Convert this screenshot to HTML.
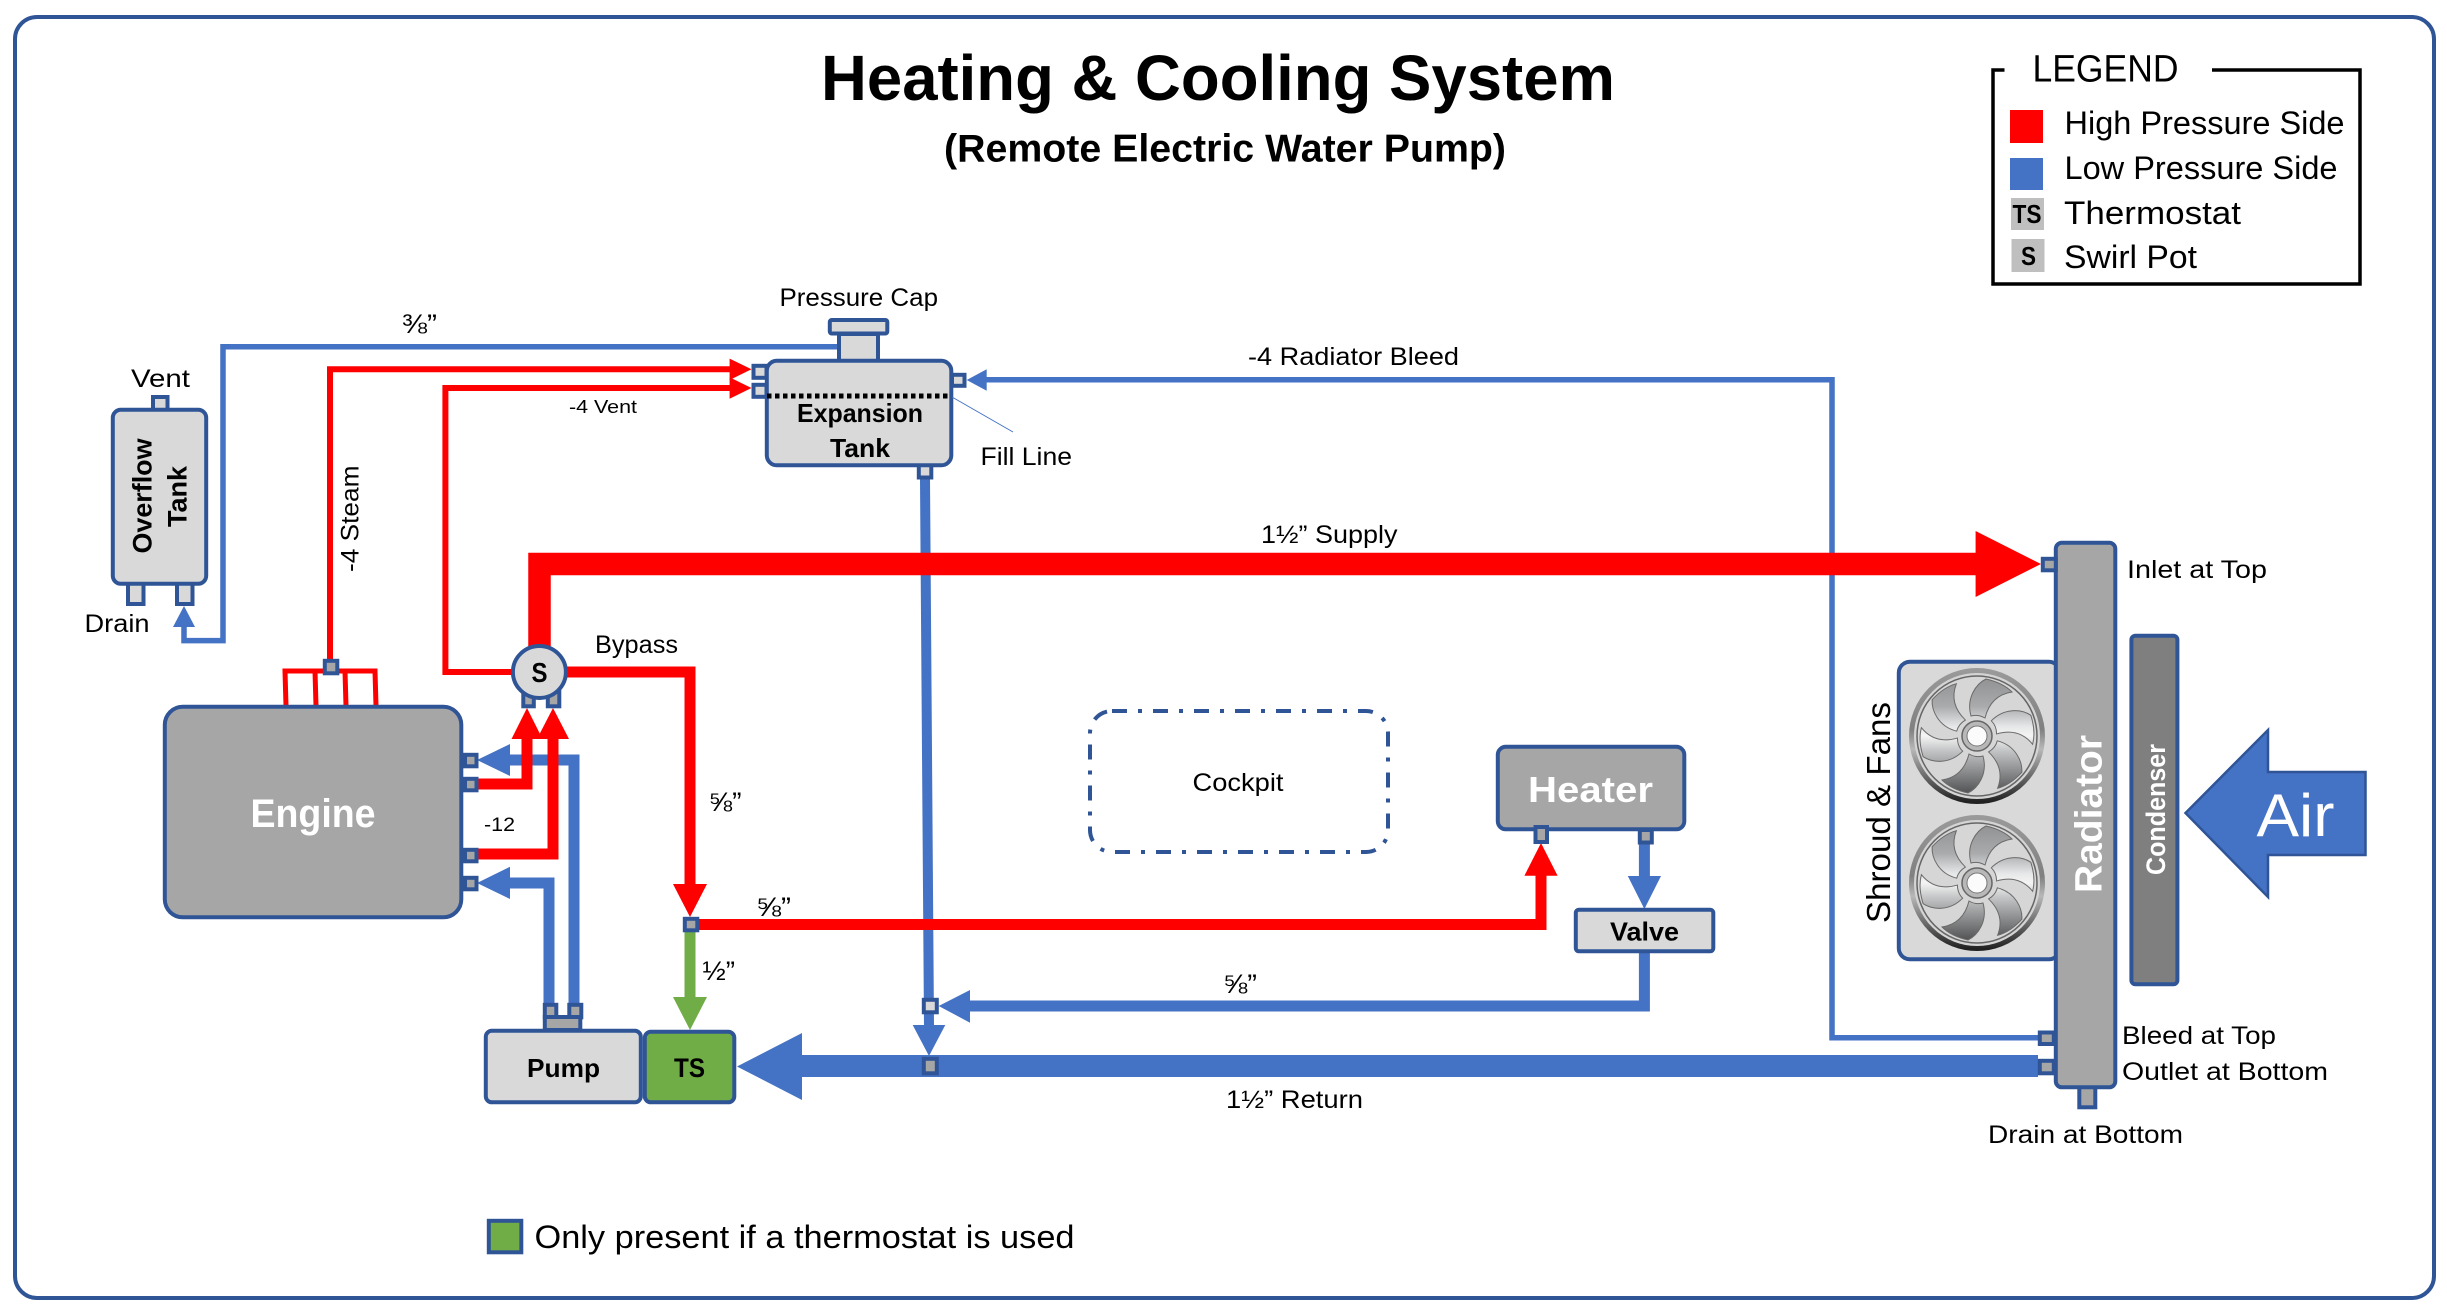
<!DOCTYPE html>
<html>
<head>
<meta charset="utf-8">
<style>
html,body{margin:0;padding:0;background:#fff;}
svg{display:block;}
text{font-family:"Liberation Sans",sans-serif;fill:#000;}
.b{font-weight:bold;}
.w{fill:#fff;}
.box{stroke:#2f5597;stroke-width:4;}
.lg{fill:#d9d9d9;}
.dg{fill:#a6a6a6;}
.bl{fill:none;stroke:#4472c4;stroke-linejoin:miter;}
.rd{fill:none;stroke:#ff0000;stroke-linejoin:miter;}
</style>
</head>
<body>
<svg xmlns="http://www.w3.org/2000/svg" width="2447" height="1313" viewBox="0 0 2447 1313">
<defs>
<linearGradient id="ring" x1="0" y1="0" x2="0" y2="1">
<stop offset="0" stop-color="#9a9a9a"/><stop offset=".45" stop-color="#808080"/><stop offset=".6" stop-color="#b8b8b8"/><stop offset="1" stop-color="#222"/>
</linearGradient>
<linearGradient id="blade" gradientUnits="userSpaceOnUse" x1="0" y1="-60" x2="0" y2="60">
<stop offset="0" stop-color="#8f9092"/><stop offset=".25" stop-color="#a9aaac"/><stop offset=".42" stop-color="#e6e7e8"/><stop offset=".5" stop-color="#f4f4f4"/><stop offset=".62" stop-color="#c4c5c6"/><stop offset="1" stop-color="#4a4b4c"/>
</linearGradient>
<path id="bp" d="M-6,-20 C-11,-38 -1,-52 9,-57 C18,-55 28,-51 35,-44 C22,-42 12,-34 8,-18 Q1,-22 -6,-20 Z"/>
<clipPath id="blades">
<use href="#bp"/><use href="#bp" transform="rotate(60)"/><use href="#bp" transform="rotate(120)"/><use href="#bp" transform="rotate(180)"/><use href="#bp" transform="rotate(240)"/><use href="#bp" transform="rotate(300)"/>
</clipPath>
<g id="fan">
<circle r="65.500" fill="#d4d4d4" stroke="url(#ring)" stroke-width="5"/>
<circle r="60" fill="#d6d6d6" stroke="#666" stroke-width="1.500"/>
<rect x="-60" y="-60" width="120" height="120" fill="url(#blade)" clip-path="url(#blades)"/>
<g fill="none" stroke="#6a6a6a" stroke-width="1">
<use href="#bp"/><use href="#bp" transform="rotate(60)"/><use href="#bp" transform="rotate(120)"/><use href="#bp" transform="rotate(180)"/><use href="#bp" transform="rotate(240)"/><use href="#bp" transform="rotate(300)"/>
</g>
<circle r="15" fill="#b8b8b8" stroke="#666" stroke-width="1.500"/>
<circle r="10" fill="#fbfbfb" stroke="#777" stroke-width="1"/>
</g>
</defs>

<rect width="2447" height="1313" fill="#fff"/>
<rect x="15" y="17" width="2419" height="1281" rx="22" fill="#fff" stroke="#2f5597" stroke-width="4"/>

<!-- Title -->
<text class="b" x="821" y="100" font-size="64" textLength="794" lengthAdjust="spacingAndGlyphs">Heating &amp; Cooling System</text>
<text class="b" x="944" y="161.700" font-size="39" textLength="562" lengthAdjust="spacingAndGlyphs">(Remote Electric Water Pump)</text>

<!-- Legend -->
<path d="M2004.500 70 H1993 V284 H2360 V70 H2212" fill="none" stroke="#000" stroke-width="3.500"/>
<text x="2032.500" y="81.700" font-size="38" textLength="146" lengthAdjust="spacingAndGlyphs">LEGEND</text>
<rect x="2010" y="110" width="33" height="33" fill="#ff0000"/>
<rect x="2010" y="158" width="33" height="32" fill="#4472c4"/>
<rect x="2011" y="198" width="33" height="32" fill="#bfbfbf"/>
<rect x="2011.500" y="239" width="33" height="33" fill="#bfbfbf"/>
<text class="b" x="2012.500" y="223" font-size="26" textLength="29" lengthAdjust="spacingAndGlyphs">TS</text>
<text class="b" x="2021" y="265" font-size="26" textLength="15" lengthAdjust="spacingAndGlyphs">S</text>
<text x="2064.500" y="134" font-size="32" textLength="280" lengthAdjust="spacingAndGlyphs">High Pressure Side</text>
<text x="2064.500" y="179" font-size="32" textLength="273" lengthAdjust="spacingAndGlyphs">Low Pressure Side</text>
<text x="2064" y="224" font-size="32" textLength="177" lengthAdjust="spacingAndGlyphs">Thermostat</text>
<text x="2064" y="268" font-size="32" textLength="133" lengthAdjust="spacingAndGlyphs">Swirl Pot</text>

<!-- Blue lines -->
<path class="bl" stroke-width="5.500" d="M838 346.700 H223 V640.600 H184 V625"/>
<polygon fill="#4472c4" points="184,606 173,627 195,627"/>
<path class="bl" stroke-width="5.500" d="M2038 1037.700 H1832 V379.700 H985"/>
<polygon fill="#4472c4" points="966.700,380 986.700,369.300 986.700,390.700"/>
<path class="bl" stroke-width="10" d="M925 479 L929 1027"/>
<polygon fill="#4472c4" points="929,1056 912.700,1025 945.300,1025"/>
<path class="bl" stroke-width="11" d="M1644.400 952 V1006 H969"/>
<polygon fill="#4472c4" points="938.700,1006 970,990 970,1022.700"/>
<path class="bl" stroke-width="11" d="M1644.400 844 V877"/>
<polygon fill="#4472c4" points="1644.400,909 1627.800,876 1661,876"/>
<path class="bl" stroke-width="22" d="M801 1066 H2038"/>
<polygon fill="#4472c4" points="737,1066.500 802,1033 802,1100"/>
<path class="bl" stroke-width="11" d="M509 760 H574 V1003"/>
<polygon fill="#4472c4" points="477,760 510,744 510,776"/>
<path class="bl" stroke-width="11" d="M509 883 H549 V1003"/>
<polygon fill="#4472c4" points="477,883 510,866.700 510,899"/>

<!-- Red lines -->
<path class="rd" stroke-width="6" d="M330 667 V369.300 H731"/>
<polygon fill="#ff0000" points="751.500,369.300 729.600,358.600 729.600,380"/>
<path class="rd" stroke-width="6" d="M515 672 H445.400 V388 H731"/>
<polygon fill="#ff0000" points="751.500,388 729.600,377.300 729.600,398.700"/>
<path class="rd" stroke-width="22.500" d="M539.500 655 V564 H1977"/>
<polygon fill="#ff0000" points="2041,564 1975.600,531 1975.600,597"/>
<path class="rd" stroke-width="11" d="M560 672 H690 V885"/>
<polygon fill="#ff0000" points="690,917 673,884 707,884"/>
<path class="rd" stroke-width="11" d="M695 924.500 H1541 V875"/>
<polygon fill="#ff0000" points="1541,843 1524.400,875.700 1557.600,875.700"/>
<path class="rd" stroke-width="11" d="M476 784 H527 V738"/>
<polygon fill="#ff0000" points="527,708 511.500,739 542.500,739"/>
<path class="rd" stroke-width="11" d="M476 854 H553 V738"/>
<polygon fill="#ff0000" points="553,708 537,739 569,739"/>
<path class="rd" stroke-width="5" d="M286 706 L285 671 H375 L376 706 M315 671 L316 706 M345 671 L346 706"/>

<!-- Green -->
<path fill="none" stroke="#70ad47" stroke-width="11" d="M690 930 V998"/>
<polygon fill="#70ad47" points="690,1030 673,997 707,997"/>

<!-- Overflow tank -->
<rect class="box lg" x="153" y="397" width="14.500" height="14"/>
<rect class="box lg" x="128" y="583" width="15.500" height="21"/>
<rect class="box lg" x="177" y="583" width="15.500" height="21"/>
<rect class="box lg" x="112.800" y="409.800" width="93.400" height="174" rx="8"/>
<text class="b" font-size="27" transform="translate(151.500,553.500) rotate(-90)" textLength="115" lengthAdjust="spacingAndGlyphs">Overflow</text>
<text class="b" font-size="27" transform="translate(186.700,527) rotate(-90)" textLength="61" lengthAdjust="spacingAndGlyphs">Tank</text>

<!-- Expansion tank -->
<rect class="box lg" x="839" y="334" width="39" height="28"/>
<rect class="box lg" x="829.800" y="320" width="57.500" height="13.500" rx="2"/>
<rect class="box lg" x="753.500" y="365.800" width="13" height="12"/>
<rect class="box lg" x="753.500" y="384.800" width="13" height="12"/>
<rect class="box lg" x="952" y="374.800" width="12.500" height="11"/>
<rect class="box lg" x="918.800" y="465" width="12.500" height="12.500"/>
<rect class="box lg" x="766.800" y="360.800" width="184.500" height="104.500" rx="10"/>
<line x1="767" y1="396" x2="951" y2="396" stroke="#000" stroke-width="5" stroke-dasharray="4.500 3.500"/>
<line x1="952" y1="397" x2="1013" y2="432" stroke="#4472c4" stroke-width="1"/>
<text class="b" x="797" y="422" font-size="26" textLength="126" lengthAdjust="spacingAndGlyphs">Expansion</text>
<text class="b" x="830" y="457" font-size="26" textLength="60" lengthAdjust="spacingAndGlyphs">Tank</text>

<!-- Junctions -->
<rect class="box dg" x="324.800" y="660.800" width="12.500" height="12.500"/>
<rect class="box dg" x="684.800" y="918.800" width="12.500" height="11.500"/>
<rect class="box lg" x="923.800" y="999.800" width="13" height="12.500"/>
<rect class="box dg" x="923.800" y="1058.800" width="13" height="14.500"/>

<!-- Engine -->
<rect class="box dg" x="164.800" y="706.800" width="296.500" height="210.500" rx="18"/>
<rect class="box dg" x="465" y="754.800" width="11.500" height="11.500"/>
<rect class="box dg" x="465" y="778.800" width="11.500" height="11.500"/>
<rect class="box dg" x="465" y="849.800" width="11.500" height="11.500"/>
<rect class="box dg" x="465" y="877.800" width="11.500" height="11.500"/>
<text class="b w" x="250.500" y="827" font-size="40" textLength="125" lengthAdjust="spacingAndGlyphs">Engine</text>

<!-- Swirl pot -->
<rect class="box dg" x="523.300" y="692" width="10.500" height="14.300"/>
<rect class="box dg" x="547.800" y="692" width="11.500" height="14.300"/>
<ellipse class="box lg" cx="539.400" cy="672" rx="26.500" ry="26"/>
<text class="b" x="531.500" y="682" font-size="28" textLength="16" lengthAdjust="spacingAndGlyphs">S</text>

<!-- Pump and TS -->
<rect class="box dg" x="544.800" y="1004.800" width="11.500" height="12.500"/>
<rect class="box dg" x="569.300" y="1004.800" width="12" height="12.500"/>
<rect class="box dg" x="544.800" y="1017" width="35.500" height="13"/>
<rect class="box lg" x="485.800" y="1030.800" width="155" height="71.500" rx="6"/>
<rect class="box" fill="#70ad47" x="644.800" y="1031.800" width="89.500" height="70.500" rx="6"/>
<text class="b" x="527" y="1077" font-size="26" textLength="73" lengthAdjust="spacingAndGlyphs">Pump</text>
<text class="b" x="674" y="1077" font-size="27" textLength="31" lengthAdjust="spacingAndGlyphs">TS</text>

<!-- Cockpit -->
<rect x="1090" y="711" width="298" height="141" rx="22" fill="none" stroke="#2f5597" stroke-width="4" stroke-dasharray="15 11 4 11"/>
<text x="1192.500" y="791" font-size="25" textLength="91" lengthAdjust="spacingAndGlyphs">Cockpit</text>

<!-- Heater and valve -->
<rect class="box dg" x="1497.800" y="746.800" width="186.500" height="82.500" rx="8"/>
<rect class="box dg" x="1535.500" y="827" width="11.500" height="15"/>
<rect class="box dg" x="1639.800" y="830" width="12" height="12.500"/>
<text class="b w" x="1528" y="802" font-size="36" textLength="125" lengthAdjust="spacingAndGlyphs">Heater</text>
<rect class="box lg" x="1575.800" y="909.800" width="137.500" height="41.500" rx="3"/>
<text class="b" x="1610" y="940.700" font-size="26" textLength="69" lengthAdjust="spacingAndGlyphs">Valve</text>

<!-- Radiator group -->
<rect class="box lg" x="1898.800" y="661.800" width="161" height="297.500" rx="11"/>
<use href="#fan" transform="translate(1977,736)"/>
<use href="#fan" transform="translate(1977,883)"/>
<rect class="box dg" x="2079.300" y="1086" width="16" height="21.300"/>
<rect class="box dg" x="2055.800" y="542.800" width="59.500" height="544.500" rx="6"/>
<rect class="box dg" x="2042.800" y="558.800" width="13" height="11.500"/>
<rect class="box dg" x="2039.800" y="1032.500" width="14" height="11.500"/>
<rect class="box dg" x="2039.800" y="1060.800" width="14" height="12.500"/>
<text class="b w" font-size="38" transform="translate(2101.600,893) rotate(-90)" textLength="158" lengthAdjust="spacingAndGlyphs">Radiator</text>
<rect class="box" fill="#7f7f7f" x="2131.400" y="635.800" width="46" height="348.500" rx="4"/>
<text class="b w" font-size="27" transform="translate(2165,875) rotate(-90)" textLength="131" lengthAdjust="spacingAndGlyphs">Condenser</text>
<text font-size="33" transform="translate(1890,923) rotate(-90)" textLength="221" lengthAdjust="spacingAndGlyphs">Shroud &amp; Fans</text>
<polygon points="2185.500,813 2268,730 2268,772 2365.500,772 2365.500,855 2268,855 2268,897" fill="#4472c4" stroke="#2f5597" stroke-width="2.500"/>
<text class="w" x="2256.500" y="836" font-size="60" textLength="78" lengthAdjust="spacingAndGlyphs">Air</text>

<!-- Labels -->
<text x="131" y="387" font-size="25" textLength="59" lengthAdjust="spacingAndGlyphs">Vent</text>
<text x="84.500" y="632" font-size="25" textLength="65" lengthAdjust="spacingAndGlyphs">Drain</text>
<text font-size="25" transform="translate(358.700,572) rotate(-90)" textLength="106.500" lengthAdjust="spacingAndGlyphs">-4 Steam</text>
<text x="402" y="333" font-size="27" textLength="35" lengthAdjust="spacingAndGlyphs">⅜”</text>
<text x="569" y="413" font-size="18" textLength="68" lengthAdjust="spacingAndGlyphs">-4 Vent</text>
<text x="779.500" y="306" font-size="25" textLength="158.500" lengthAdjust="spacingAndGlyphs">Pressure Cap</text>
<text x="980.500" y="465" font-size="25" textLength="91.500" lengthAdjust="spacingAndGlyphs">Fill Line</text>
<text x="1248" y="365" font-size="25" textLength="211" lengthAdjust="spacingAndGlyphs">-4 Radiator Bleed</text>
<text x="1261" y="543" font-size="25" textLength="136.500" lengthAdjust="spacingAndGlyphs">1½” Supply</text>
<text x="595" y="653" font-size="25" textLength="83" lengthAdjust="spacingAndGlyphs">Bypass</text>
<text x="484" y="831" font-size="19" textLength="31" lengthAdjust="spacingAndGlyphs">-12</text>
<text x="708.500" y="811" font-size="27" textLength="33" lengthAdjust="spacingAndGlyphs">⅝”</text>
<text x="756" y="916" font-size="27" textLength="35" lengthAdjust="spacingAndGlyphs">⅝”</text>
<text x="702.500" y="980" font-size="27" textLength="32.500" lengthAdjust="spacingAndGlyphs">½”</text>
<text x="1223" y="993" font-size="27" textLength="34" lengthAdjust="spacingAndGlyphs">⅝”</text>
<text x="1226" y="1108" font-size="25" textLength="137" lengthAdjust="spacingAndGlyphs">1½” Return</text>
<text x="2127" y="578" font-size="25" textLength="140" lengthAdjust="spacingAndGlyphs">Inlet at Top</text>
<text x="2122" y="1044" font-size="25" textLength="154" lengthAdjust="spacingAndGlyphs">Bleed at Top</text>
<text x="2122" y="1080" font-size="25" textLength="206" lengthAdjust="spacingAndGlyphs">Outlet at Bottom</text>
<text x="1988" y="1143" font-size="25" textLength="195" lengthAdjust="spacingAndGlyphs">Drain at Bottom</text>

<!-- Footnote -->
<rect class="box" fill="#70ad47" x="488.800" y="1220.800" width="32.500" height="31.500"/>
<text x="534.500" y="1248" font-size="32" textLength="540" lengthAdjust="spacingAndGlyphs">Only present if a thermostat is used</text>
</svg>
</body>
</html>
